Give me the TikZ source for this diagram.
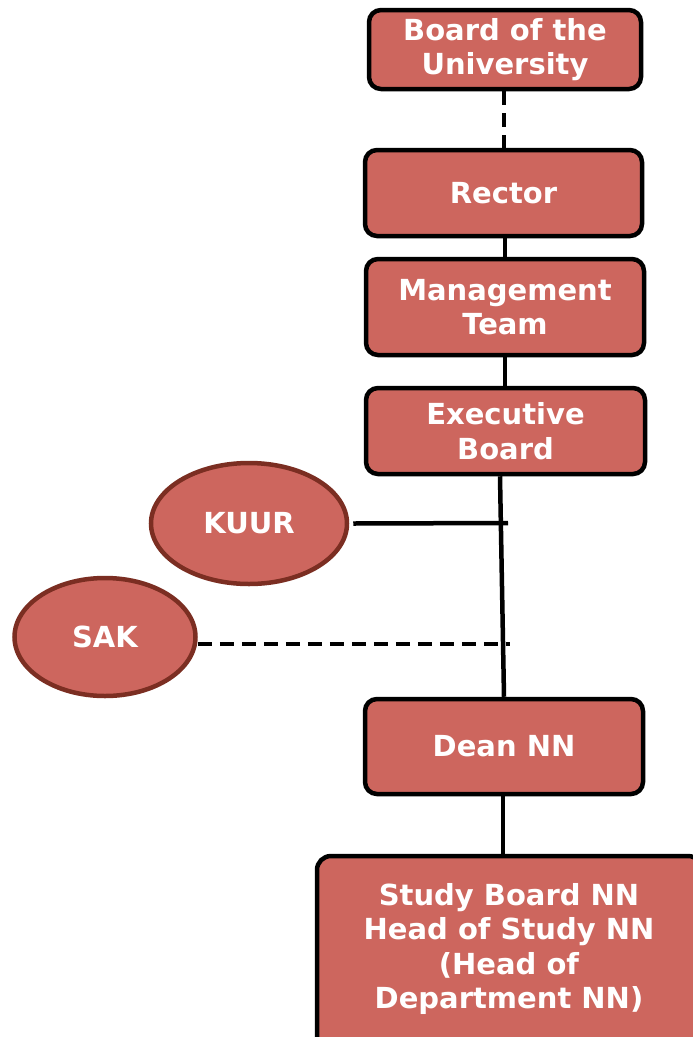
\documentclass[tikz,border=0pt]{standalone}
\usepackage{fontspec}
\setmainfont{DejaVu Sans}
\usetikzlibrary{shapes.geometric}
\definecolor{boxfill}{RGB}{205,102,94}
\definecolor{ellborder}{RGB}{123,46,34}
\tikzset{
  orgbox/.style={draw=black, line width=4.5pt, fill=boxfill, rounded corners=12pt,
    text=white, font=\fontsize{29}{34.5}\selectfont\bfseries, align=center,
    inner sep=0pt, minimum width=#1},
  orgtext/.style={text=white, font=\fontsize{29}{34.5}\selectfont\bfseries, align=center, inner sep=0pt},
  orgell/.style={ellipse, draw=ellborder, line width=4.5pt, fill=boxfill, text=white,
    font=\fontsize{29}{34.5}\selectfont\bfseries, inner sep=0pt},
  conn/.style={line width=4.5pt},
  dconn/.style={line width=4.5pt, dash pattern=on 14pt off 8pt},
}
\begin{document}
\begin{tikzpicture}[x=1pt,y=-1pt]
\useasboundingbox (0,0) rectangle (693,1037);
\begin{scope}
\clip (0,0) rectangle (693,1037);
\node[orgbox=272pt, minimum height=79pt] (board) at (505,49.5) {Board of the\\University};
\node[orgbox=277pt, minimum height=86pt] (rector) at (503.5,193) {Rector};
\node[orgbox=278pt, minimum height=96pt] (mt) at (505,307) {Management\\Team};
\node[orgbox=279pt, minimum height=86pt] (eb) at (505.5,431) {Executive\\Board};
\node[orgbox=278pt, minimum height=95pt] (dean) at (504,746.5) {Dean NN};
\draw[draw=black, line width=4.5pt, fill=boxfill, rounded corners=14pt] (317,856) rectangle (702,1070);
\node[orgtext] (study) at (509,949) {Study Board NN\\Head of Study NN\\(Head of\\Department NN)};
\node[orgell, minimum width=196pt, minimum height=121pt] (kuur) at (249,523.5) {KUUR};
\node[orgell, minimum width=181pt, minimum height=118pt] (sak) at (105,637) {SAK};
\coordinate (kj) at (508,523);
\coordinate (sj) at (510,644);
\coordinate (studytop) at (503,856);
\end{scope}
\draw[dconn] (board.south -| 504,0) -- (rector.north -| 504,0);
\draw[conn] (rector.south -| 505,0) -- (mt.north -| 505,0);
\draw[conn] (mt.south -| 505,0) -- (eb.north -| 505,0);
\draw[conn] (eb.south -| 500,0) -- (dean.north -| 504,0);
\draw[conn] (dean.south -| 503,0) -- (studytop);
\draw[conn] (kuur.east) ++(4,0) -- (kj);
\draw[dconn] (sak.east |- sj) -- (sj);
\end{tikzpicture}
\end{document}
